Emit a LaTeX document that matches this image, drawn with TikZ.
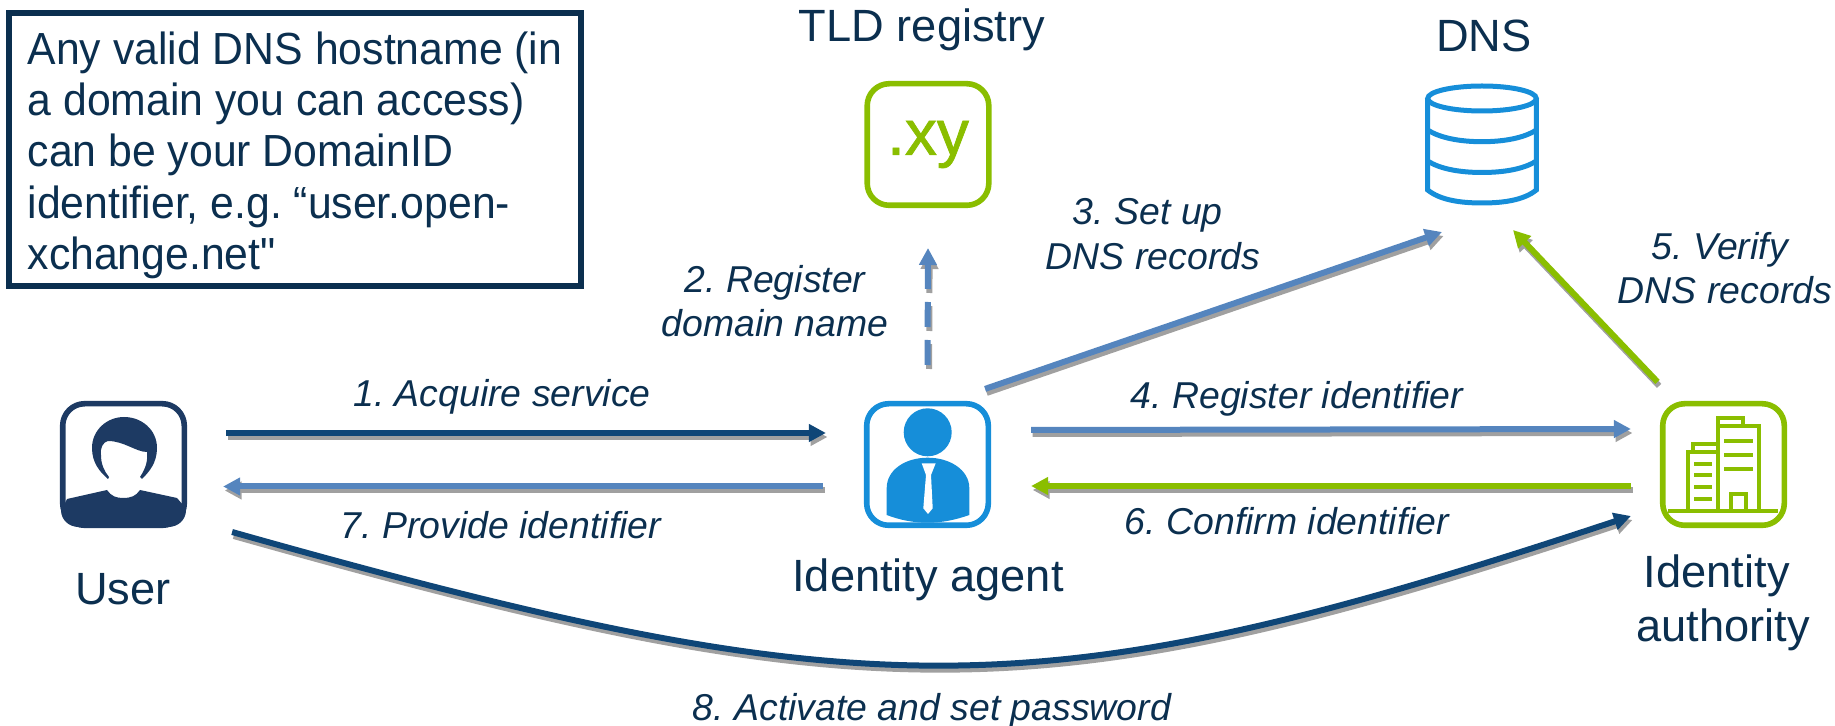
\documentclass[tikz,border=0pt]{standalone}
\usepackage{fontspec}
\setmainfont{Liberation Sans}[Ligatures=TeXOff]
\newfontfamily\xyfont{Liberation Sans}[FakeBold=1.2]
\newfontfamily\notefont{Liberation Sans}[Ligatures=TeXOff, FakeStretch=0.95]
\usetikzlibrary{arrows.meta}
\definecolor{textnavy}{HTML}{0B2F4F}
\definecolor{usernavy}{HTML}{1D3A63}
\definecolor{arrownavy}{HTML}{0F4677}
\definecolor{arrowblue}{HTML}{5585BE}
\definecolor{arrowgreen}{HTML}{8ABE00}
\definecolor{iconblue}{HTML}{168ED9}
\definecolor{shadowgray}{HTML}{A0A0A0}
\tikzset{
    iconbox/.style={draw, line width=2.8pt, rectangle, rounded corners=11pt, minimum width=60.8pt, minimum height=60.8pt, inner sep=0pt},
    iconlabel/.style={text=textnavy, align=center, font=\fontsize{22.6}{27}\selectfont},
    steplabel/.style={text=textnavy, align=center, font=\fontsize{18.7}{22.2}\selectfont\itshape\frenchspacing},
    flow/.style={line width=3pt, -{Triangle[length=8.5pt,width=8.5pt]}},
    flowshadow/.style={flow, draw=shadowgray, transform canvas={xshift=0.8pt,yshift=-2pt}},
}
\newcommand{\flowarrow}[2]{
    \draw[flowshadow, #1, draw=shadowgray] #2;
    \draw[flow, #1] #2;
}
\begin{document}
\begin{tikzpicture}[x=0.5pt, y=-0.5pt]
    \useasboundingbox (0,0) rectangle (1835,726);

    % Box for note
    \node[draw=textnavy, line width=2.7pt, rectangle, minimum width=286pt, minimum height=136.5pt, align=left, text=textnavy, inner sep=0pt, font=\notefont\fontsize{22.5}{25.6}\selectfont\frenchspacing] (Note) at (295,149.5) {\rule{0pt}{22pt}Any valid DNS hostname (in\\a domain you can access)\\can be your DomainID\\identifier, e.g. “user.open-\\xchange.net"};

    % Icon for User
    \node[iconbox, draw=usernavy] (User) at (123.5,464.5) {};
    \fill[usernavy] (108,479) .. controls (100,472) and (92,463) .. (92,448) .. controls (92,430) and (107,417) .. (124,417) .. controls (142,417) and (157,430) .. (157,448) .. controls (157,463) and (149,472) .. (142,479) -- (140,477) .. controls (146,468) and (148,460) .. (147,452) .. controls (136,452) and (124,441) .. (108,441) .. controls (103,442) and (100,448) .. (101,455) .. controls (101,464) and (104,471) .. (109,477) -- cycle;
    \fill[usernavy] (64,505) -- (67,499) -- (107,490) .. controls (111,496) and (116,498) .. (123,498) .. controls (131,498) and (136,496) .. (140,490) -- (177,498) -- (183,505) -- (186,510) .. controls (186,520) and (178,527) .. (168,527) -- (79,527) .. controls (69,527) and (61,520) .. (61,510) -- cycle;
    \node[iconlabel] (UserLabel) at (123,589) {User};

    % Icon for TLD registry
    \node[iconbox, draw=arrowgreen, text=arrowgreen, font=\xyfont\fontsize{32}{32}\selectfont] (Registry) at (928,144.5) {\raisebox{-1.5pt}{.xy}};
    \node[iconlabel] (RegistryLabel) at (922,30) {TLD registry};

    % Icon for DNS
    \coordinate (Dns) at (1482,144);
    \begin{scope}[draw=iconblue, line width=2.5pt]
        \draw (1482,98.5) ellipse [x radius=54.3, y radius=12.5];
        \draw (1427.7,98.5) -- (1427.7,190) .. controls (1440,200) and (1460,203) .. (1482,203) .. controls (1504,203) and (1524,200) .. (1536.3,190) -- (1536.3,98.5);
        \draw (1427.7,130) .. controls (1440,138) and (1460,141.7) .. (1482,141.7) .. controls (1504,141.7) and (1524,138) .. (1536.3,130);
        \draw (1427.7,161) .. controls (1440,169) and (1460,172.5) .. (1482,172.5) .. controls (1504,172.5) and (1524,169) .. (1536.3,161);
    \end{scope}
    \node[iconlabel] (DnsLabel) at (1484,36) {DNS};

    % Icon for Identity agent
    \node[iconbox, draw=iconblue] (Agent) at (927.5,464.5) {};
    \fill[iconblue] (927.7,432.3) circle (24);
    \fill[iconblue] (886.7,515) -- (886.7,488) .. controls (886.7,470) and (905,457.7) .. (927.7,457.7) .. controls (950,457.7) and (969.3,470) .. (969.3,488) -- (969.3,515) .. controls (955,520) and (942,522.7) .. (927.7,522.7) .. controls (913,522.7) and (900,520) .. (886.7,515) -- cycle;
    \fill[white] (921.7,463.3) -- (935.7,463.3) -- (931,475) -- (932.7,508.3) -- (928,514) -- (923.3,508.3) -- (926,475) -- cycle;
    \node[iconlabel] (AgentLabel) at (928,580) {Identity agent};

    % Icon for Identity authority
    \node[iconbox, draw=arrowgreen] (Authority) at (1723.5,464.5) {};
    \begin{scope}[draw=arrowgreen, line width=1.6pt]
        \draw (1668,511) -- (1778,511);
        \draw (1688,511) -- (1688,452) -- (1718,452);
        \draw (1693,452) -- (1693,444) -- (1718,444);
        \draw (1718,511) -- (1718,418) -- (1743,418) -- (1743,426);
        \draw (1718,426) -- (1759,426) -- (1759,511);
        \draw (1731,511) -- (1731,494) -- (1746,494) -- (1746,511);
        \foreach \y in {464,475,487,499} {
            \draw (1694,\y) -- (1712,\y);
        }
        \foreach \y in {441,455,469} {
            \draw (1724,\y) -- (1753,\y);
        }
    \end{scope}
    \node[iconlabel] (AuthorityLabel) at (1723,603) {Identity~\null\\authority};

    % Arrows
    \flowarrow{draw=arrownavy}{([shift={(39,-31.5)}]User.east) -- ([shift={(-38,-31.5)}]Agent.west)}
    \flowarrow{draw=arrowblue}{([shift={(-41,22)}]Agent.west) -- ([shift={(36,22)}]User.east)}
    \flowarrow{draw=arrowblue, dash pattern=on 12.5pt off 6.5pt}{(Agent.north |- 0,365) -- (Registry.south |- 0,248)}
    \flowarrow{draw=arrowblue}{([shift={(-6,-12)}]Agent.north east) -- ([shift={(-40,88)}]Dns)}
    \flowarrow{draw=arrowblue}{([shift={(40,-34.5)}]Agent.east) -- ([shift={(-29,-35.5)}]Authority.west)}
    \flowarrow{draw=arrowgreen}{([shift={(-66,-19)}]Authority.north) -- ([shift={(31,86)}]Dns)}
    \flowarrow{draw=arrowgreen}{([shift={(-29,21.5)}]Authority.west) -- ([shift={(40,21.5)}]Agent.east)}
    \flowarrow{draw=arrownavy}{([shift={(45,67.5)}]User.east) .. controls (870,712) and (1040,712) .. ([shift={(-29,51.5)}]Authority.west)}

    % Labels for arrows
    \node[steplabel] (LabelAcquire) at (502,397) {1. Acquire service};
    \node[steplabel] (LabelDomain) at (775,301) {2. Register\\domain name};
    \node[steplabel] (LabelRecords) at (1153,234) {3. Set up~\null\\DNS records};
    \node[steplabel] (LabelRegister) at (1297,399) {4. Register identifier};
    \node[steplabel] (LabelVerify) at (1725,268) {5. Verify~\null\\DNS records};
    \node[steplabel] (LabelConfirm) at (1287,521) {6. Confirm identifier};
    \node[steplabel] (LabelProvide) at (501,525) {7. Provide identifier};
    \node[steplabel] (LabelActivate) at (932,711) {8. Activate and set password};
\end{tikzpicture}
\end{document}
